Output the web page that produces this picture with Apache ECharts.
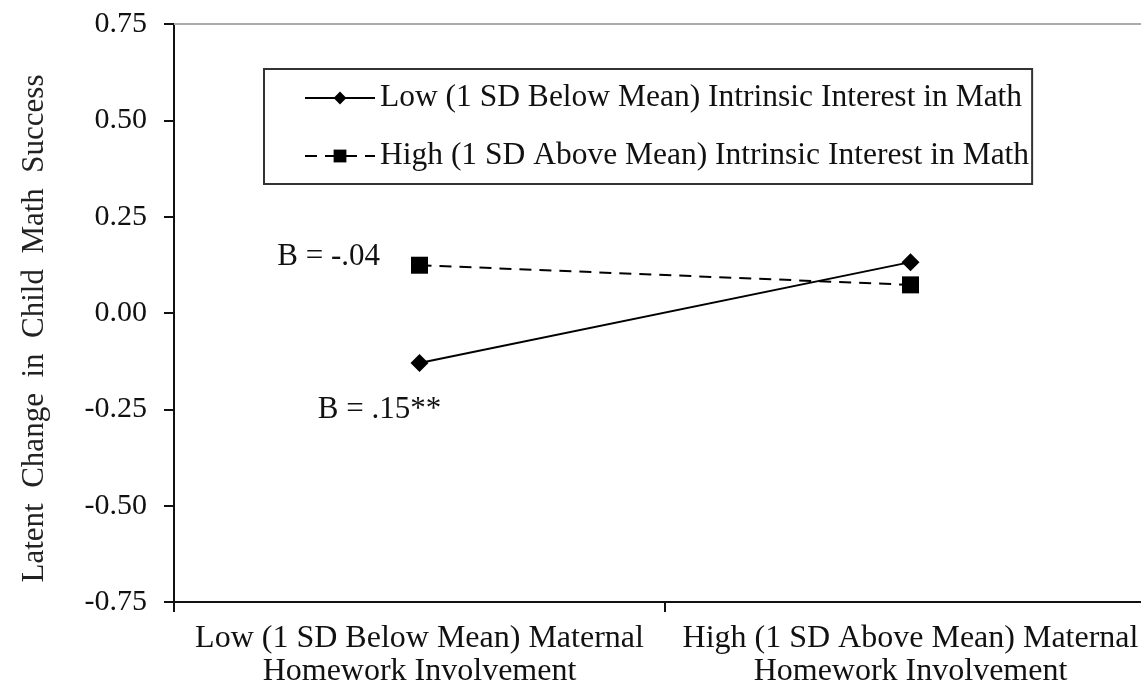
<!DOCTYPE html>
<html>
<head>
<meta charset="utf-8">
<script src="https://cdn.jsdelivr.net/npm/echarts@6/dist/echarts.min.js"></script>
<style>
html,body{margin:0;padding:0;background:#fff;}
#chart{width:1141px;height:688px;}
</style>
</head>
<body>
<div id="chart"></div>
<script>
const categories = ["Low (1 SD Below Mean) Maternal\nHomework Involvement", "High (1 SD Above Mean) Maternal\nHomework Involvement"];
const seriesNames = ["Low (1 SD Below Mean) Intrinsic Interest in Math", "High (1 SD Above Mean) Intrinsic Interest in Math"];
const lowInterest = [-0.13, 0.132];
const highInterest = [0.124, 0.073];
const annotations = ["B = .15**", "B = -.04"];
const yTicks = [-0.75, -0.5, -0.25, 0, 0.25, 0.5, 0.75];
const yTitle = "Latent  Change  in  Child  Math  Success    ";

const FONT = "Liberation Serif";
const chart = echarts.init(document.getElementById('chart'), null, {renderer: 'canvas'});

chart.setOption({
  backgroundColor: '#fff',
  animation: false,
  textStyle: {fontFamily: FONT, color: '#111'},
  grid: {left: 174, top: 24, width: 982, height: 578, outerBoundsMode: 'none', containLabel: false},
  legend: {
    orient: 'vertical',
    left: 264,
    top: 69,
    padding: [13, 3, 12, 40],
    itemGap: 26,
    itemWidth: 70,
    itemHeight: 16,
    borderColor: '#333',
    borderWidth: 2,
    textStyle: {fontFamily: FONT, fontSize: 31.5, color: '#111'},
    data: seriesNames
  },
  xAxis: {
    type: 'category',
    data: categories,
    boundaryGap: true,
    axisLine: {onZero: false, lineStyle: {color: '#111', width: 2}},
    axisTick: {show: true, length: 10, lineStyle: {color: '#111', width: 2}},
    axisLabel: {fontFamily: FONT, fontSize: 32, color: '#111', margin: 20, lineHeight: 33, interval: 0}
  },
  yAxis: {
    type: 'value',
    min: yTicks[0],
    max: yTicks[yTicks.length - 1],
    interval: 0.25,
    name: yTitle,
    nameLocation: 'middle',
    nameRotate: 90,
    nameGap: 124,
    nameTextStyle: {fontFamily: FONT, fontSize: 31, color: '#222'},
    axisLine: {show: true, lineStyle: {color: '#111', width: 2}},
    axisTick: {show: true, length: 10, lineStyle: {color: '#111', width: 2}},
    splitLine: {show: false},
    axisLabel: {fontFamily: FONT, fontSize: 30, color: '#111', margin: 27,
      formatter: v => v.toFixed(2)}
  },
  series: [
    {
      name: seriesNames[0],
      type: 'line',
      data: lowInterest.map((v, i) => i === 0 ? {value: v, label: {show: true, formatter: annotations[0], position: 'bottom', offset: [-40, 17], fontFamily: FONT, fontSize: 31, color: '#111'}} : v),
      symbol: 'diamond',
      symbolSize: 18,
      itemStyle: {color: '#000'},
      lineStyle: {color: '#000', width: 2},
      markLine: {
        silent: true,
        symbol: 'none',
        label: {show: false},
        lineStyle: {color: '#aaa', width: 2, type: 'solid'},
        data: [{yAxis: yTicks[yTicks.length - 1]}]
      }
    },
    {
      name: seriesNames[1],
      type: 'line',
      data: highInterest.map((v, i) => i === 0 ? {value: v, label: {show: true, formatter: annotations[1], position: 'left', offset: [-26, -8], fontFamily: FONT, fontSize: 31, color: '#111'}} : v),
      symbol: 'rect',
      symbolSize: 17,
      itemStyle: {color: '#000'},
      lineStyle: {color: '#000', width: 2, type: [12, 8]}
    }
  ]
});
</script>
</body>
</html>
